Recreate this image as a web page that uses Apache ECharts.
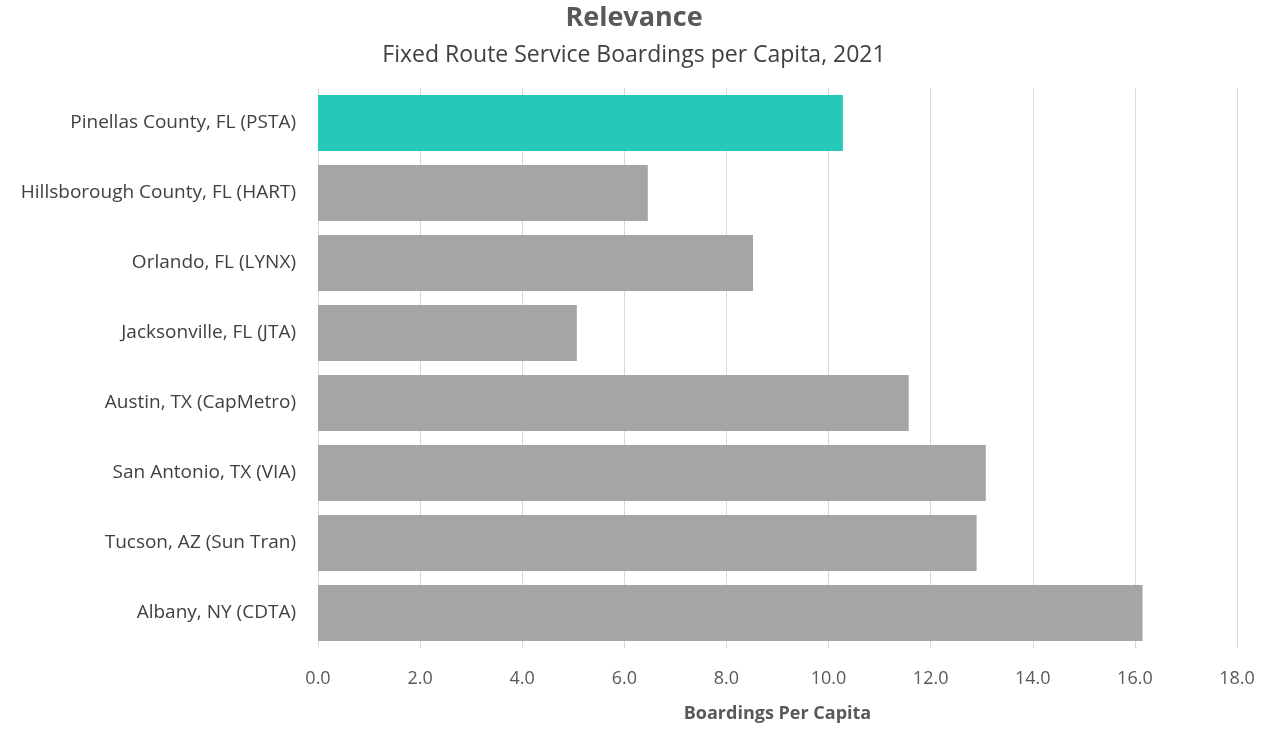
<!DOCTYPE html>
<html><head><meta charset="utf-8">
<script src="https://cdn.jsdelivr.net/npm/echarts@6/dist/echarts.min.js"></script>
<style>html,body{margin:0;padding:0;background:#fff}#c{width:1268px;height:740px}</style>
</head><body><div id="c"></div>
<script>
const categories = ["Pinellas County, FL (PSTA)","Hillsborough County, FL (HART)","Orlando, FL (LYNX)","Jacksonville, FL (JTA)","Austin, TX (CapMetro)","San Antonio, TX (VIA)","Tucson, AZ (Sun Tran)","Albany, NY (CDTA)"];
const values = [10.28, 6.46, 8.52, 5.07, 11.57, 13.08, 12.90, 16.15];
const highlightIndex = 0;
const font = "'Open Sans', sans-serif";
const chart = echarts.init(document.getElementById('c'));
chart.setOption({
  animation:false,
  title:{text:'Relevance',subtext:'Fixed Route Service Boardings per Capita, 2021',left:'center',top:0,
    textStyle:{fontFamily:font,fontSize:27,fontWeight:'bold',color:'#595959'},
    subtextStyle:{fontFamily:font,fontSize:23,color:'#404040'},itemGap:12},
  grid:{left:318,right:31,top:88,bottom:92},
  xAxis:{type:'value',min:0,max:18,interval:2,
    axisLabel:{formatter:v=>v.toFixed(1),fontFamily:font,fontSize:18,color:'#595959',margin:22},
    axisLine:{show:false},axisTick:{show:false},
    splitLine:{lineStyle:{color:'#d9d9d9',width:1}},
    name:'Boardings Per Capita',nameLocation:'middle',nameGap:57,
    nameTextStyle:{fontFamily:font,fontSize:18,fontWeight:'bold',color:'#595959'}},
  yAxis:{type:'category',data:categories,inverse:true,
    axisLine:{show:false},axisTick:{show:false},
    axisLabel:{fontFamily:font,fontSize:19,color:'#404040',margin:22}},
  series:[{type:'bar',barCategoryGap:'20%',
    data:values.map((v,i)=>({value:v,itemStyle:{color:i===highlightIndex?'#26C9B8':'#A5A5A5'}}))}]
});
</script></body></html>
